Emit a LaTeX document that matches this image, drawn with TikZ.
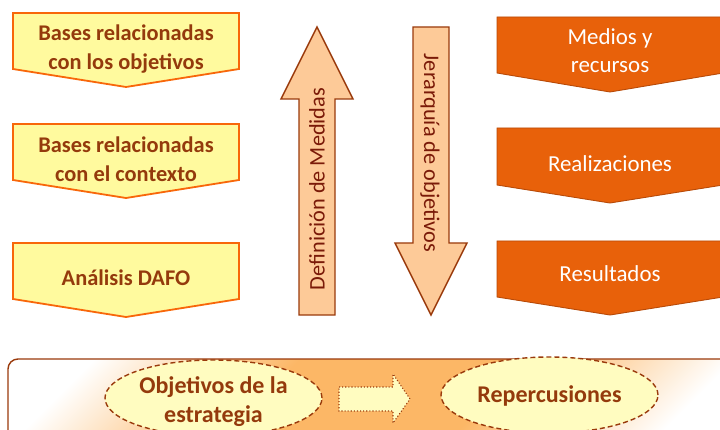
\documentclass[tikz,border=0pt]{standalone}
\usepackage{fontspec}
\setmainfont{Carlito}
\usetikzlibrary{shapes.geometric}
\definecolor{ylwfill}{HTML}{FFFA9E}
\definecolor{ylwline}{HTML}{F8670A}
\definecolor{brtext}{HTML}{943A0C}
\definecolor{orfill}{HTML}{E8610A}
\definecolor{orline}{HTML}{B84A08}
\definecolor{arfill}{HTML}{FDCA98}
\definecolor{arline}{HTML}{9A3A0C}
\definecolor{artext}{HTML}{7A1A08}
\definecolor{bandmid}{HTML}{FCB766}
\definecolor{ellfill}{HTML}{FFFCC0}
\pgfdeclareverticalshading{bandsh}{100bp}{color(0bp)=(white); color(22bp)=(white); color(40bp)=(bandmid); color(60bp)=(bandmid); color(78bp)=(white); color(100bp)=(white)}
\tikzset{
  x=1pt, y=-1pt,
  ylwbox/.style={fill=ylwfill, draw=ylwline, line width=1.8pt, line join=miter},
  orbox/.style={fill=orfill, draw=orline, line width=0.9pt},
  bigarrow/.style={fill=arfill, draw=arline, line width=1.4pt},
  ylwtext/.style={font=\fontsize{22.4}{29}\selectfont\bfseries, text=brtext, align=center, inner sep=0pt},
  ortext/.style={font=\fontsize{22.9}{28}\selectfont, text=white, align=center, inner sep=0pt},
  artextst/.style={font=\fontsize{22.3}{28}\selectfont, text=artext, inner sep=0pt},
  ellnode/.style={ellipse, fill=ellfill, draw=arline, dashed, dash pattern=on 5pt off 3pt, line width=1.4pt,
    minimum width=217pt, minimum height=76pt, inner sep=0pt},
  elltext/.style={font=\fontsize{24}{29}\selectfont\bfseries, text=brtext, align=center, inner sep=0pt},
}
\begin{document}
\begin{tikzpicture}
\useasboundingbox (0,0) rectangle (720,430);
\fill[white] (0,0) rectangle (720,430);
% left boxes
\draw[ylwbox] (13,13) -- (239,13) -- (239,69) -- (126,87) -- (13,69) -- cycle;
\draw[ylwbox] (13,124) -- (239,124) -- (239,180) -- (126,198) -- (13,180) -- cycle;
\draw[ylwbox] (13,243) -- (239,243) -- (239,299) -- (126,317) -- (13,299) -- cycle;
\node[ylwtext] (b1) at (126,49) {Bases relacionadas\\con los objetivos};
\node[ylwtext] (b2) at (126,159) {Bases relacionadas\\con el contexto};
\node[ylwtext] (b3) at (126,278) {Análisis DAFO};
% right boxes
\draw[orbox] (497,17) -- (723,17) -- (723,73) -- (610,92) -- (497,73) -- cycle;
\draw[orbox] (497,128) -- (723,128) -- (723,185) -- (610,203) -- (497,185) -- cycle;
\draw[orbox] (497,241) -- (723,241) -- (723,297) -- (610,315) -- (497,297) -- cycle;
\node[ortext] (r1) at (610,51) {Medios y\\recursos};
\node[ortext] (r2) at (610,164) {Realizaciones};
\node[ortext] (r3) at (610,274) {Resultados};
% vertical arrows
\draw[bigarrow] (317,27) -- (353,99) -- (335,99) -- (335,315) -- (299,315) -- (299,99) -- (281,99) -- cycle;
\draw[bigarrow] (413,27) -- (449,27) -- (449,243) -- (467,243) -- (431,315) -- (395,243) -- (413,243) -- cycle;
\node[artextst, rotate=90] (def) at (317,189) {Definición de Medidas};
\node[artextst, rotate=-90] (jer) at (430,153) {Jerarquía de objetivos};
% bottom band
\shade[shading=bandsh, shading angle=45]
  (8,359) [rounded corners=10pt] -- (740,359) -- (740,440) -- (8,440) -- cycle;
\draw[draw=arline, line width=1.4pt, rounded corners=10pt] (8,450) -- (8,359) -- (740,359);
% ellipses
\node[ellnode] (e1) at (213.5,398) {};
\node[ellnode] (e2) at (549.5,395) {};
\node[elltext] (t1) at (213.5,402) {Objetivos de la\\estrategia};
\node[elltext] (t2) at (549.5,396) {Repercusiones};
% dotted arrow
\draw[fill=ellfill, draw=arline, dotted, line width=1.1pt]
  (339,387) -- (393,387) -- (393,374) -- (410,399) -- (393,423) -- (393,411) -- (339,411) -- cycle;
\end{tikzpicture}
\end{document}
